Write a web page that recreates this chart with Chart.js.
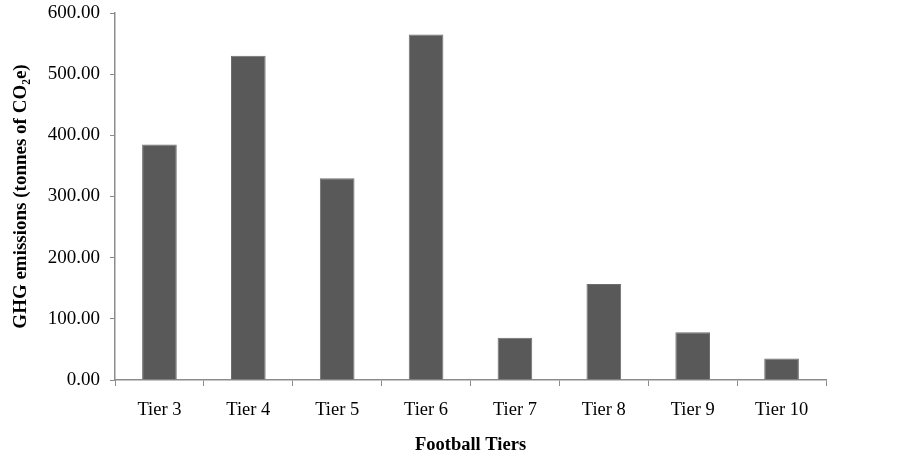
<!DOCTYPE html>
<html>
<head>
<meta charset="utf-8">
<script src="https://cdn.jsdelivr.net/npm/chart.js@4"></script>
<style>
  html, body { margin: 0; padding: 0; background: #fff; }
  #wrap { width: 903px; height: 460px; }
</style>
</head>
<body>
<div id="wrap"><canvas id="tiersChart" width="903" height="460"></canvas></div>
<script>
const tiers = ['Tier 3', 'Tier 4', 'Tier 5', 'Tier 6', 'Tier 7', 'Tier 8', 'Tier 9', 'Tier 10'];
const emissions = [385, 530, 330, 565, 69, 157, 78, 35];
const yTicks = [0, 100, 200, 300, 400, 500, 600];

const axisGrey = '#8c8c8c';
const serif = "'Liberation Serif', 'Times New Roman', serif";

const ctx = document.getElementById('tiersChart').getContext('2d');
new Chart(ctx, {
    type: 'bar',
    data: {
        labels: tiers,
        datasets: [{
            data: emissions,
            backgroundColor: '#595959',
            borderColor: '#6e6e6e',
            borderWidth: 1,
            barPercentage: 0.39,
            categoryPercentage: 1
        }]
    },
    options: {
        responsive: false,
        animation: false,
        layout: { padding: { top: 13, right: 77, left: 0, bottom: 0 } },
        plugins: {
            legend: { display: false },
            tooltip: { enabled: false }
        },
        scales: {
            x: {
                grid: {
                    display: true,
                    drawOnChartArea: false,
                    offset: true,
                    tickLength: 6,
                    color: axisGrey
                },
                border: { color: axisGrey, width: 1.5 },
                ticks: {
                    color: '#000',
                    font: { family: serif, size: 18.5 },
                    padding: 13,
                    maxRotation: 0
                },
                title: {
                    display: true,
                    text: 'Football Tiers',
                    color: '#000',
                    font: { family: serif, size: 18.5, weight: 'bold' },
                    padding: { top: 10 }
                },
                afterFit: s => { s.height = 80; }
            },
            y: {
                min: 0,
                max: 600,
                afterBuildTicks: s => { s.ticks = yTicks.map(v => ({ value: v })); },
                grid: {
                    display: true,
                    drawOnChartArea: false,
                    tickLength: 5,
                    color: axisGrey
                },
                border: { color: axisGrey, width: 1.5 },
                ticks: {
                    color: '#000',
                    font: { family: serif, size: 19 },
                    padding: 10,
                    callback: v => Number(v).toFixed(2)
                },
                title: {
                    display: true,
                    text: 'GHG emissions (tonnes of CO\u2082e)',
                    color: '#000',
                    font: { family: serif, size: 19, weight: 'bold' },
                    padding: { top: 10, bottom: 4 }
                },
                afterFit: s => {
                    s.width = 115;
                    s.paddingTop = 0;
                    s.paddingBottom = 0;
                }
            }
        }
    }
});
</script>
</body>
</html>
